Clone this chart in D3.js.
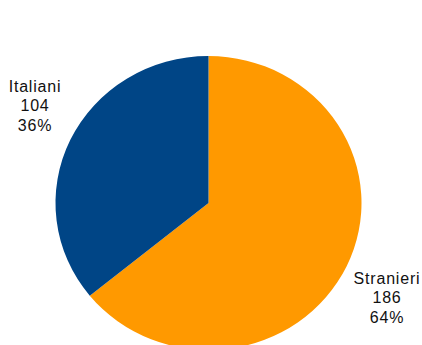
<!DOCTYPE html>
<html>
<head>
<meta charset="utf-8">
<script src="https://cdn.jsdelivr.net/npm/d3@7"></script>
<style>
  html, body { margin: 0; padding: 0; background: #fff; }
  svg { display: block; }
  .lbl { font-family: "Liberation Sans", Arial, sans-serif; font-size: 16px; letter-spacing: 0.8px; fill: #111; }
</style>
</head>
<body>
<svg id="chart" width="422" height="345"></svg>
<script>
// Composition of the group: categories, counts and colours
const categories = ["Stranieri", "Italiani"];
const counts = [186, 104];
const colors = ["#ff9900", "#004586"];

const width = 422, height = 345;
// Pie is drawn slightly flattened (horizontal radius rx, vertical radius ry)
const cx = 208.5, cy = 203, rx = 153, ry = 147;

const svg = d3.select("#chart");

const pie = d3.pie().sort(null).value(d => d.value);
const arc = d3.arc().innerRadius(0).outerRadius(rx);

const rows = categories.map((c, i) => ({ name: c, value: counts[i], color: colors[i] }));
const arcs = pie(rows);
const total = d3.sum(counts);

const g = svg.append("g")
  .attr("transform", `translate(${cx},${cy}) scale(1,${ry / rx})`);
g.selectAll("path")
  .data(arcs)
  .join("path")
  .attr("d", arc)
  .attr("fill", d => d.data.color);

// Data labels: name, value and percentage on three lines
const labelPos = { "Italiani": [35, 92], "Stranieri": [387, 284] };
const lineH = 19.3;
const fmtPct = v => Math.round(v / total * 100) + "%";

arcs.forEach(a => {
  const [x, y] = labelPos[a.data.name];
  const t = svg.append("text")
    .attr("class", "lbl")
    .attr("text-anchor", "middle")
    .attr("x", x).attr("y", y);
  [a.data.name, String(a.data.value), fmtPct(a.data.value)].forEach((s, i) => {
    t.append("tspan").attr("x", x).attr("dy", i === 0 ? 0 : lineH).text(s);
  });
});
</script>
</body>
</html>
